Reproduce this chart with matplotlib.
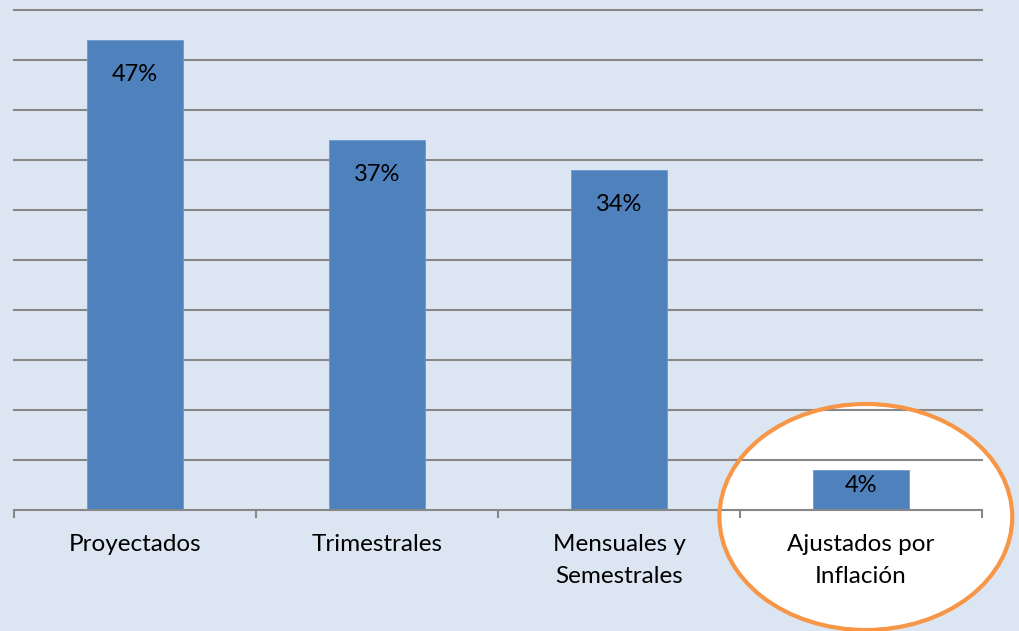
import matplotlib.pyplot as plt
from matplotlib.patches import Ellipse
import numpy as np

categories = ["Proyectados", "Trimestrales", "Mensuales y\nSemestrales", "Ajustados por\nInflación"]
values = [47, 37, 34, 4]
labels = ["47%", "37%", "34%", "4%"]

bg = "#DCE6F2"
bar_color = "#4F81BD"
grid_color = "#878787"

plt.rcParams['font.family'] = ['Lato', 'DejaVu Sans']

fig = plt.figure(figsize=(10.19, 6.31), dpi=100, facecolor=bg)
ax = fig.add_axes([14 / 1019, 121 / 631, 968 / 1019, 500 / 631])
ax.set_facecolor(bg)

x = np.arange(len(categories))
bars = ax.bar(x, values, width=0.4, color=bar_color, edgecolor="#6E98CC", linewidth=0.6, zorder=2)

# labels sit inside the top of each bar (short bars get a smaller offset)
for xi, v, lab in zip(x, values, labels):
    ax.text(xi, v - min(3.45, v * 0.38), lab, ha="center", va="center",
            fontsize=17, color="black", zorder=4)

ax.set_xlim(-0.5, len(categories) - 0.5)
ax.set_ylim(0, 50)
ax.set_yticks(np.arange(5, 51, 5))
ax.yaxis.grid(True, color=grid_color, linewidth=1.5)
for gl in ax.get_ygridlines():
    gl.set_clip_on(False)
ax.set_axisbelow(True)
ax.tick_params(axis="y", length=0, labelleft=False)

ax.set_xticks(x)
ax.set_xticklabels(categories, fontsize=17.5, linespacing=1.65)
ax.set_xticks(np.arange(-0.5, len(categories), 1), minor=True)
ax.tick_params(axis="x", which="major", length=0, pad=17)
ax.tick_params(axis="x", which="minor", length=5.5, width=1.5, color=grid_color, direction="out")

for s in ["top", "right", "left"]:
    ax.spines[s].set_visible(False)
ax.spines["bottom"].set_color(grid_color)
ax.spines["bottom"].set_linewidth(1.5)

# highlight ellipse around last category
last = len(categories) - 1
ax.add_patch(Ellipse((last + 0.02, -0.7), 1.21, 22.6, facecolor="white",
                     edgecolor="none", zorder=0.2, clip_on=False))
ax.add_patch(Ellipse((last + 0.02, -0.7), 1.21, 22.6, facecolor="none",
                     edgecolor="#F79646", linewidth=3, zorder=3, clip_on=False))

fig.savefig("out.png", dpi=100, facecolor=bg)
